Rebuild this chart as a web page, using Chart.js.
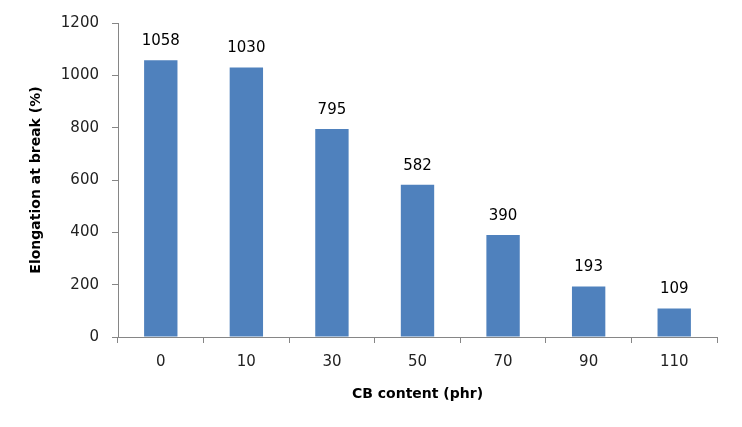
<!DOCTYPE html>
<html>
<head>
<meta charset="utf-8">
<script src="https://cdn.jsdelivr.net/npm/chart.js@4"></script>
<style>
  body { margin: 0; background: #fff; }
  #wrap { width: 742px; height: 427px; }
</style>
</head>
<body>
<div id="wrap"><canvas id="grafico" width="742" height="427"></canvas></div>
<script>
var categorias = ["0", "10", "30", "50", "70", "90", "110"];
var alongamento = [1058, 1030, 795, 582, 390, 193, 109];

// escreve o valor em cima de cada barra
var rotulos = {
    id: "rotulos",
    afterDatasetsDraw: function(chart){
        var ctx = chart.ctx;
        var meta = chart.getDatasetMeta(0);
        ctx.save();
        ctx.font = "15px 'DejaVu Sans'";
        ctx.fillStyle = "#000";
        ctx.textAlign = "center";
        ctx.textBaseline = "middle";
        meta.data.forEach(function(barra, i){
            ctx.fillText(alongamento[i], barra.x, barra.y - 19);
        });
        ctx.restore();
    }
};

var ctx = document.getElementById("grafico").getContext("2d");
var chart = new Chart(ctx, {
    type: "bar",
    data: {
        labels: categorias,
        datasets: [{
            label: "Elongation at break (%)",
            data: alongamento,
            backgroundColor: "#4F81BD",
            categoryPercentage: 1,
            barPercentage: 0.39
        }]
    },
    options: {
        responsive: false,
        animation: false,
        layout: { padding: { left: 24, right: 25, top: 23, bottom: 20 } },
        plugins: {
            legend: { display: false },
            tooltip: { enabled: false }
        },
        scales: {
            x: {
                afterFit: function(s){ s.height = 70; },
                grid: { display: true, offset: true, drawOnChartArea: false, tickLength: 6, color: "#868686" },
                border: { color: "#868686", width: 1 },
                ticks: { color: "#222", font: { family: "DejaVu Sans", size: 15 }, padding: 10 },
                title: { display: true, text: "CB content (phr)", color: "#000", font: { family: "DejaVu Sans", size: 14, weight: "bold" }, padding: { top: 4, bottom: 4 } }
            },
            y: {
                min: 0,
                max: 1200,
                afterFit: function(s){ s.width = 94; },
                grid: { display: true, drawOnChartArea: false, tickLength: 6, color: "#868686" },
                border: { color: "#868686", width: 1 },
                ticks: {
                    stepSize: 200, color: "#222", padding: 13,
                    font: { family: "DejaVu Sans", size: 15 },
                    callback: function(v){ return String(v); }
                },
                title: { display: true, text: "Elongation at break (%)", color: "#000", font: { family: "DejaVu Sans", size: 14, weight: "bold" } }
            }
        }
    },
    plugins: [rotulos]
});
</script>
</body>
</html>
